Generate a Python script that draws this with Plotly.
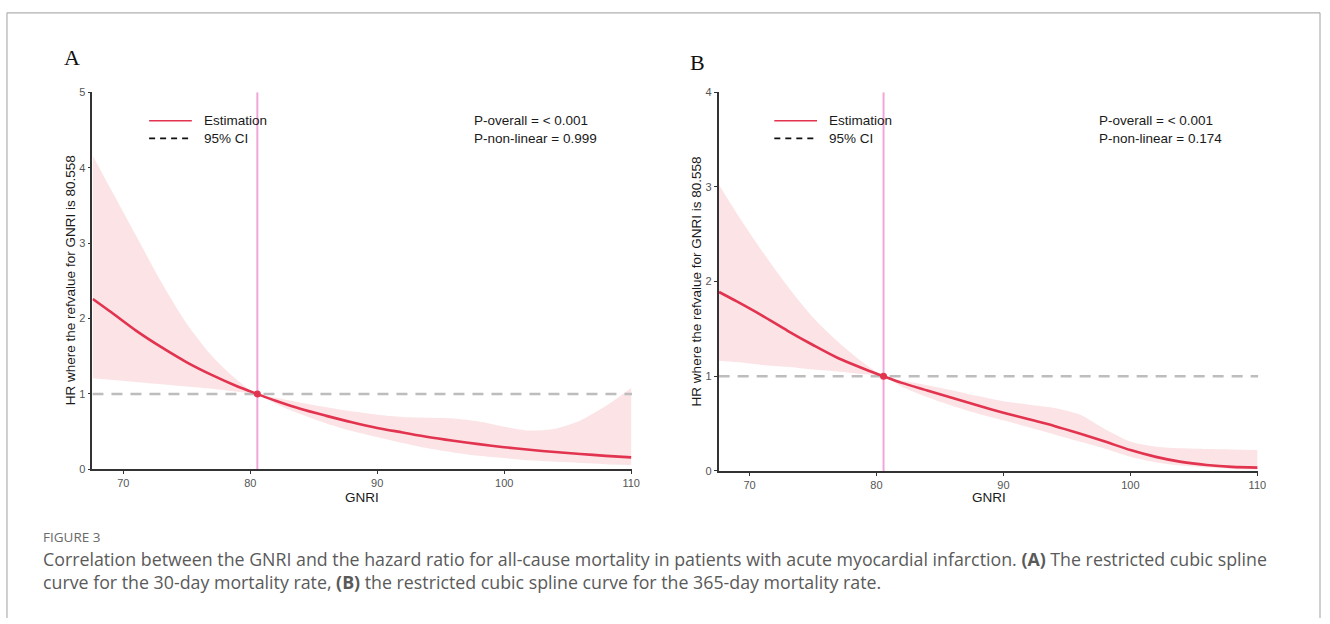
import plotly.graph_objects as go

W, H = 1330, 624

# ---------------- data ----------------
ref_value = 80.558
gnri = [67.6, 69, 71, 73, 75, 77, 79, 80.558, 82, 84, 86, 88, 90, 92, 94, 96, 98, 100, 102, 104, 106, 108, 110]

a_est = [2.26, 2.09, 1.84, 1.62, 1.42, 1.25, 1.10, 1.00, 0.91, 0.80, 0.71, 0.625, 0.55, 0.49, 0.43, 0.38, 0.335, 0.295, 0.26, 0.23, 0.205, 0.18, 0.16]
a_upper = [4.16, 3.72, 3.10, 2.48, 1.93, 1.50, 1.18, 1.00, 0.95, 0.885, 0.825, 0.77, 0.725, 0.695, 0.685, 0.675, 0.635, 0.565, 0.515, 0.54, 0.65, 0.84, 1.08]
a_lower = [1.21, 1.19, 1.16, 1.13, 1.10, 1.07, 1.03, 1.00, 0.87, 0.73, 0.61, 0.51, 0.43, 0.35, 0.28, 0.225, 0.18, 0.15, 0.12, 0.10, 0.085, 0.07, 0.06]

b_est = [1.89, 1.79, 1.64, 1.48, 1.33, 1.19, 1.08, 1.00, 0.93, 0.85, 0.77, 0.69, 0.615, 0.545, 0.475, 0.395, 0.31, 0.22, 0.148, 0.095, 0.062, 0.042, 0.034]
b_upper = [3.02, 2.72, 2.32, 1.95, 1.62, 1.36, 1.14, 1.00, 0.955, 0.905, 0.85, 0.79, 0.735, 0.70, 0.665, 0.595, 0.44, 0.31, 0.255, 0.238, 0.23, 0.225, 0.22]
b_lower = [1.165, 1.15, 1.12, 1.10, 1.07, 1.05, 1.02, 1.00, 0.89, 0.78, 0.685, 0.605, 0.535, 0.46, 0.385, 0.31, 0.235, 0.15, 0.092, 0.056, 0.035, 0.021, 0.014]

x_ticks = [70, 80, 90, 100, 110]
a_yticks = [0, 1, 2, 3, 4, 5]
b_yticks = [0, 1, 2, 3, 4]
x_range = [67.57, 110.08]

p_texts_a = ["P-overall = < 0.001", "P-non-linear = 0.999"]
p_texts_b = ["P-overall = < 0.001", "P-non-linear = 0.174"]
y_title = "HR where the refvalue for GNRI is 80.558"
x_title = "GNRI"

# ---------------- styles ----------------
RED = "#e2334f"
BAND = "rgba(250,222,226,0.85)"
PINK = "#f2a6d8"
DASHGRAY = "#bdbdbd"
AXIS = "#333333"
TICKFONT = dict(family="Liberation Sans, Arial", size=11, color="#555555")
TEXTFONT = dict(family="Liberation Sans, Arial", size=13.5, color="#1a1a1a")


def px_x(p):
    return p / W


def px_y(p):
    return 1 - p / H


fig = go.Figure()


def add_panel(xa, ya, est, upper, lower, ymax):
    fig.add_trace(go.Scatter(x=gnri, y=upper, mode="lines", line=dict(width=0, shape="spline", smoothing=0.8),
                             xaxis=xa, yaxis=ya, hoverinfo="skip", showlegend=False))
    fig.add_trace(go.Scatter(x=gnri, y=lower, mode="lines", line=dict(width=0, shape="spline", smoothing=0.8),
                             fill="tonexty", fillcolor=BAND,
                             xaxis=xa, yaxis=ya, hoverinfo="skip", showlegend=False))
    fig.add_trace(go.Scatter(x=x_range, y=[1, 1], mode="lines",
                             line=dict(color=DASHGRAY, width=2.4, dash="11px,8px"),
                             xaxis=xa, yaxis=ya, hoverinfo="skip", showlegend=False))
    fig.add_trace(go.Scatter(x=[ref_value, ref_value], y=[0, ymax], mode="lines",
                             line=dict(color=PINK, width=2),
                             xaxis=xa, yaxis=ya, hoverinfo="skip", showlegend=False))
    fig.add_trace(go.Scatter(x=gnri, y=est, mode="lines",
                             line=dict(color=RED, width=2.6, shape="spline", smoothing=0.8),
                             xaxis=xa, yaxis=ya, showlegend=False))
    fig.add_trace(go.Scatter(x=[ref_value], y=[1], mode="markers", marker=dict(color=RED, size=7),
                             xaxis=xa, yaxis=ya, showlegend=False))


add_panel("x", "y", a_est, a_upper, a_lower, 5)
add_panel("x2", "y2", b_est, b_upper, b_lower, 4)

common_x = dict(range=x_range, showline=True, linecolor=AXIS, linewidth=1.6, ticks="outside",
                ticklen=3, tickcolor=AXIS, tickwidth=1.2, tickfont=TICKFONT, showgrid=False,
                zeroline=False, tickvals=x_ticks, fixedrange=True)
common_y = dict(showline=True, linecolor=AXIS, linewidth=1.6, ticks="outside", ticklen=3,
                tickcolor=AXIS, tickwidth=1.2, tickfont=TICKFONT, showgrid=False, zeroline=False,
                fixedrange=True)

fig.update_layout(
    width=W, height=H,
    margin=dict(l=0, r=0, t=0, b=0),
    paper_bgcolor="white", plot_bgcolor="white",
    xaxis=dict(domain=[px_x(93), px_x(636)], anchor="y", **common_x),
    yaxis=dict(domain=[px_y(472.5), px_y(88)], anchor="x", range=[0, 5], tickvals=a_yticks, **common_y),
    xaxis2=dict(domain=[px_x(723), px_x(1266)], anchor="y2", **common_x),
    yaxis2=dict(domain=[px_y(474), px_y(88)], anchor="x2", range=[0, 4], tickvals=b_yticks, **common_y),
)

shapes = []
annotations = []

# frame
for (x0, y0, x1, y1) in [(7, 7, 1328, 7), (7, 7, 7, 624), (1328, 7, 1328, 624)]:
    shapes.append(dict(type="line", xref="paper", yref="paper", x0=px_x(x0), y0=px_y(y0),
                       x1=px_x(x1), y1=px_y(y1), line=dict(color="#b0b0b0", width=1.2)))


def panel_text(letter, lx, ly, leg_x, ptx, ax_l, ax_r, ax_top, ax_bot, ptexts):
    annotations.append(dict(text=letter, x=px_x(lx), y=px_y(ly), xref="paper", yref="paper",
                            showarrow=False, xanchor="center", yanchor="middle",
                            font=dict(family="Liberation Serif, Times New Roman", size=22, color="#111")))
    shapes.append(dict(type="line", xref="paper", yref="paper", x0=px_x(leg_x), x1=px_x(leg_x + 43),
                       y0=px_y(117), y1=px_y(117), line=dict(color=RED, width=1.6)))
    shapes.append(dict(type="line", xref="paper", yref="paper", x0=px_x(leg_x), x1=px_x(leg_x + 43),
                       y0=px_y(135), y1=px_y(135), line=dict(color="#111", width=1.6, dash="6px,5px")))
    for txt, yy in [("Estimation", 117), ("95% CI", 135)]:
        annotations.append(dict(text=txt, x=px_x(leg_x + 53), y=px_y(yy), xref="paper", yref="paper",
                                showarrow=False, xanchor="left", yanchor="middle", font=TEXTFONT))
    for txt, yy in zip(ptexts, [117, 135]):
        annotations.append(dict(text=txt, x=px_x(ptx), y=px_y(yy), xref="paper", yref="paper",
                                showarrow=False, xanchor="left", yanchor="middle", font=TEXTFONT))
    annotations.append(dict(text=x_title, x=px_x((ax_l + ax_r) / 2), y=px_y(501), xref="paper", yref="paper",
                            showarrow=False, xanchor="center", yanchor="middle", font=TEXTFONT))
    annotations.append(dict(text=y_title, x=px_x(ax_l - 22), y=px_y((ax_top + ax_bot) / 2), xref="paper",
                            yref="paper", showarrow=False, xanchor="center", yanchor="middle",
                            textangle=-90, font=TEXTFONT))


panel_text("A", 72, 53, 150, 475, 93, 636, 88, 472, p_texts_a)
panel_text("B", 702, 58, 779, 1104, 723, 1266, 88, 474, p_texts_b)

CAP = "Open Sans, Noto Sans, sans-serif"
annotations.append(dict(text="FIGURE 3", x=px_x(41), y=px_y(541), xref="paper", yref="paper", showarrow=False,
                        xanchor="left", yanchor="middle", font=dict(family=CAP, size=13.5, color="#6a6a6a")))
annotations.append(dict(text="Correlation between the GNRI and the hazard ratio for all-cause mortality in patients with acute myocardial infarction. <b>(A)</b> The restricted cubic spline",
                        x=px_x(41), y=px_y(564), xref="paper", yref="paper", showarrow=False,
                        xanchor="left", yanchor="middle", font=dict(family=CAP, size=17.8, color="#5a5a5a")))
annotations.append(dict(text="curve for the 30-day mortality rate, <b>(B)</b> the restricted cubic spline curve for the 365-day mortality rate.",
                        x=px_x(41), y=px_y(587), xref="paper", yref="paper", showarrow=False,
                        xanchor="left", yanchor="middle", font=dict(family=CAP, size=17.8, color="#5a5a5a")))

fig.update_layout(shapes=shapes, annotations=annotations)
fig.write_html("out.html")
